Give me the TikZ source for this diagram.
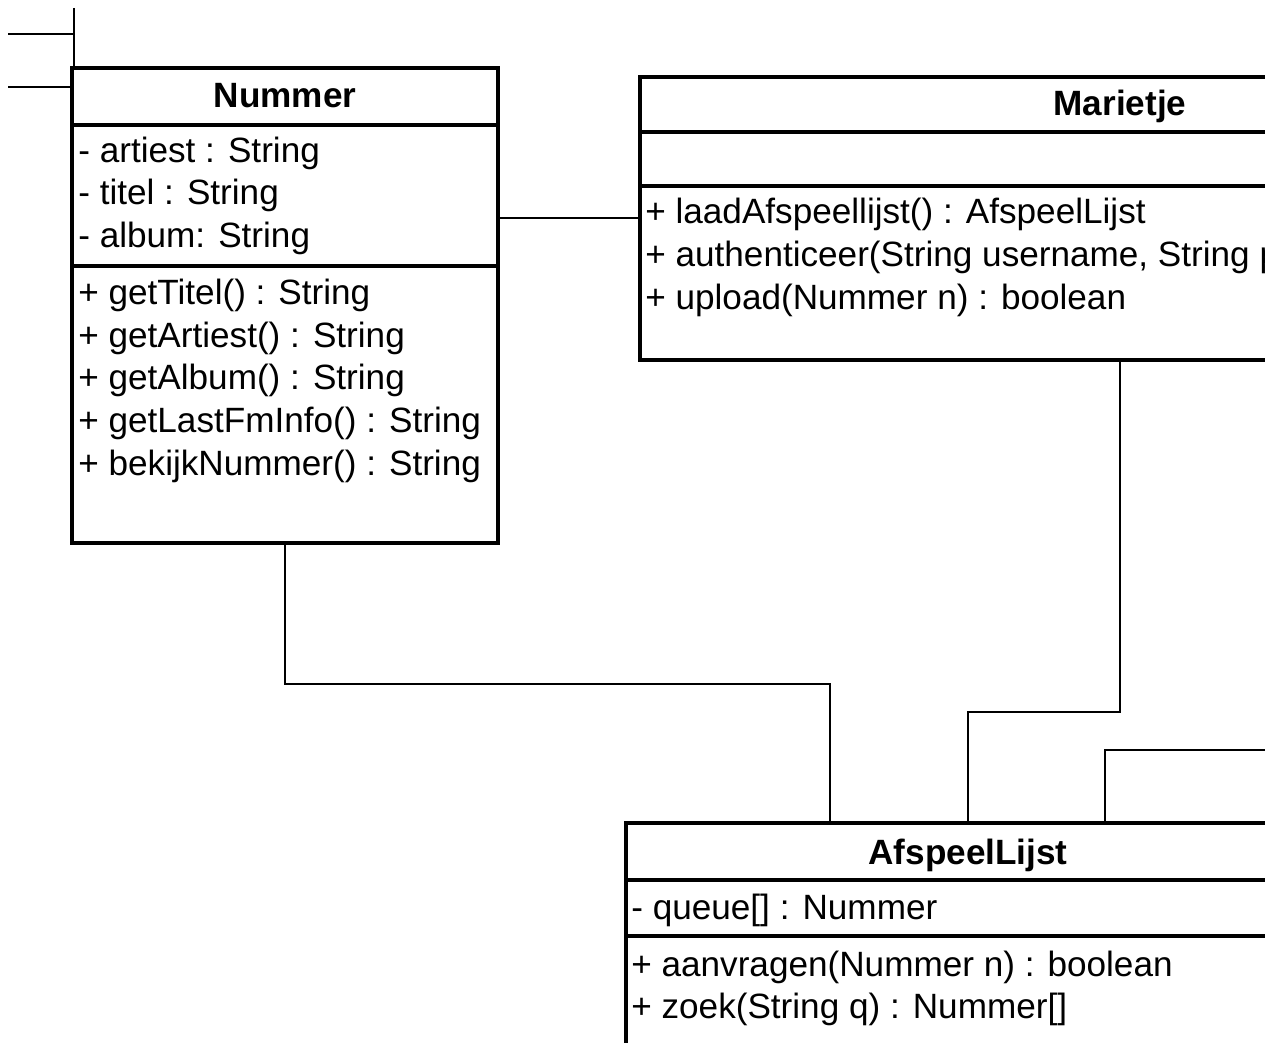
\documentclass[tikz,border=0pt]{standalone}
\usepackage{fontspec}
\setmainfont{Liberation Sans}
\begin{document}
\begin{tikzpicture}[x=0.02cm, y=-0.02cm,
    classbox/.style={draw, fill=white, line width=2.3pt, rectangle, anchor=north west, inner sep=0pt, outer sep=0pt},
    sepline/.style={line width=2pt},
    conn/.style={line width=1.1pt},
    txt/.style={anchor=base west, inner sep=0pt, font=\fontsize{20pt}{24pt}\selectfont},
    title/.style={anchor=base, inner sep=0pt, font=\fontsize{20pt}{24pt}\selectfont\bfseries}]
  \useasboundingbox (0,0) rectangle (1265,1043);
  \clip (0,0) rectangle (1265,1043);

  % class boxes
  \node[classbox, minimum width=8.52cm, minimum height=9.5cm] (nummer) at (72,68) {};
  \node[classbox, minimum width=19.2cm, minimum height=5.66cm] (marietje) at (640,77) {};
  \node[classbox, minimum width=13.68cm, minimum height=8cm] (afspeel) at (626,823) {};

  \draw[sepline] (72,125) -- (498,125);
  \draw[sepline] (72,266) -- (498,266);
  \draw[sepline] (640,132) -- (1600,132);
  \draw[sepline] (640,186) -- (1600,186);
  \draw[sepline] (626,880) -- (1310,880);
  \draw[sepline] (626,936) -- (1310,936);

  % Nummer
  \node[title] (nummerT) at (285,108) {Nummer};
  \node[txt] (na1) at (78,163) {- artiest : String};
  \node[txt] (na2) at (78,205) {- titel : String};
  \node[txt] (na3) at (78,248) {- album: String};
  \node[txt] (nm1) at (78,305) {+ getTitel() : String};
  \node[txt] (nm2) at (78,348) {+ getArtiest() : String};
  \node[txt] (nm3) at (78,390) {+ getAlbum() : String};
  \node[txt] (nm4) at (78,433) {+ getLastFmInfo() : String};
  \node[txt] (nm5) at (78,476) {+ bekijkNummer() : String};

  % Marietje
  \node[title] (marietjeT) at (1120,116) {Marietje};
  \node[txt] (mm1) at (645,224) {+ laadAfspeellijst() : AfspeelLijst};
  \node[txt] (mm2) at (645,267) {+ authenticeer(String username, String password) : boolean};
  \node[txt] (mm3) at (645,310) {+ upload(Nummer n) : boolean};

  % AfspeelLijst
  \node[title] (afspeelT) at (968,864) {AfspeelLijst};
  \node[txt] (aa1) at (631,919) {- queue[] : Nummer};
  \node[txt] (am1) at (631,976) {+ aanvragen(Nummer n) : boolean};
  \node[txt] (am2) at (631,1018) {+ zoek(String q) : Nummer[]};

  % connectors
  \coordinate (t1) at (74,8);
  \coordinate (t2) at (8,34);
  \coordinate (t3) at (8,87);
  \coordinate (k2) at (830,684);
  \coordinate (k3) at (968,712);
  \coordinate (k4) at (1105,750);
  \coordinate (k5) at (1300,750);

  \draw[conn] (t1) -- (t1 |- nummer.north);
  \draw[conn] (t2) -- (t2 -| t1);
  \draw[conn] (t3) -- (t3 -| nummer.west);
  \draw[conn] (nummer.east |- 0,218) -- (marietje.west |- 0,218);
  \draw[conn] (nummer.south) |- (k2) -- (k2 |- afspeel.north);
  \draw[conn] (marietje.south) |- (afspeel.north |- k3) -- (afspeel.north);
  \draw[conn] (k5) -- (k4) -- (k4 |- afspeel.north);
\end{tikzpicture}
\end{document}
